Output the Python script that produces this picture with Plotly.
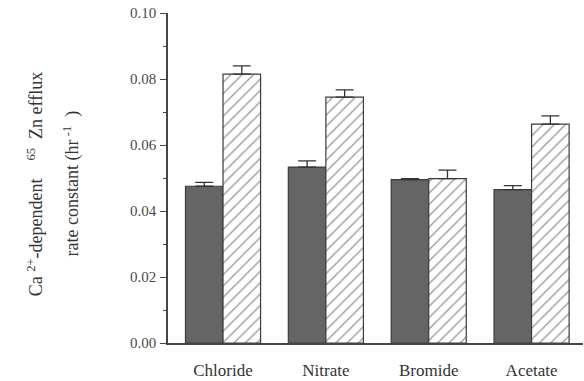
import plotly.graph_objects as go

# Efflux rate constants by anion substitution
anions = ["Chloride", "Nitrate", "Bromide", "Acetate"]
solid_vals = [0.0475, 0.0533, 0.0495, 0.0465]
solid_err = [0.0012, 0.0019, 0.0003, 0.0012]
hatched_vals = [0.0815, 0.0745, 0.0498, 0.0663]
hatched_err = [0.0025, 0.0022, 0.0026, 0.0025]

y_ticks = [0.00, 0.02, 0.04, 0.06, 0.08, 0.10]
y_tick_text = ["0.00", "0.02", "0.04", "0.06", "0.08", "0.10"]

FONT = "Liberation Serif"
INK = "#333333"

W, H = 584, 381
L, R, T, B = 168, 1, 13, 31

fig = go.Figure()

fig.add_bar(
    x=anions, y=solid_vals,
    marker=dict(color="#656565", line=dict(color="#3c3c3c", width=1.2)),
    error_y=dict(type="data", array=solid_err, arrayminus=[0] * len(solid_err),
                 symmetric=False, color=INK, thickness=1.3, width=9),
    showlegend=False,
)
fig.add_bar(
    x=anions, y=hatched_vals,
    marker=dict(color="white", line=dict(color="#3c3c3c", width=1.2),
                pattern=dict(shape="/", fgcolor="#383838", bgcolor="white",
                             size=8, solidity=0.17)),
    error_y=dict(type="data", array=hatched_err, arrayminus=[0] * len(hatched_err),
                 symmetric=False, color=INK, thickness=1.3, width=9),
    showlegend=False,
)

pw = W - L - R
ph = H - T - B


def px_x(p):
    return (p - L) / pw


def px_y(p):
    return (H - B - p) / ph


fig.add_annotation(
    text="Ca <sup>2+</sup>-dependent\u2002\u2002<sup>65</sup>\u2002Zn efflux",
    xref="paper", yref="paper", x=px_x(35), y=px_y(188),
    textangle=-90, showarrow=False, xanchor="center", yanchor="middle",
    font=dict(family=FONT, size=18, color=INK),
)
fig.add_annotation(
    text="rate constant (hr<sup> -1</sup>  )",
    xref="paper", yref="paper", x=px_x(72), y=px_y(187),
    textangle=-90, showarrow=False, xanchor="center", yanchor="middle",
    font=dict(family=FONT, size=18, color=INK),
)

fig.update_layout(
    width=W, height=H,
    margin=dict(l=L, r=R, t=T, b=B, pad=0),
    paper_bgcolor="white", plot_bgcolor="white",
    barmode="group", bargap=0.27, bargroupgap=0,
    font=dict(family=FONT, color=INK),
    xaxis=dict(
        range=[-0.535, 3.5], showgrid=False, zeroline=False,
        showline=True, linecolor="#444", linewidth=1.5,
        ticks="", tickfont=dict(family=FONT, size=17, color=INK),
        ticklabelstandoff=11,
    ),
    yaxis=dict(
        range=[0, 0.1], showgrid=False, zeroline=False,
        showline=True, linecolor="#444", linewidth=1.5,
        tickvals=y_ticks, ticktext=y_tick_text,
        ticks="outside", ticklen=6, tickwidth=1.3, tickcolor="#444",
        tickfont=dict(family=FONT, size=15, color="#4a4a4a"),
        ticklabelstandoff=1,
        minor=dict(dtick=0.01, ticks="outside", ticklen=3, tickwidth=1.3, tickcolor="#444"),
    ),
)

fig.write_html("out.html")
